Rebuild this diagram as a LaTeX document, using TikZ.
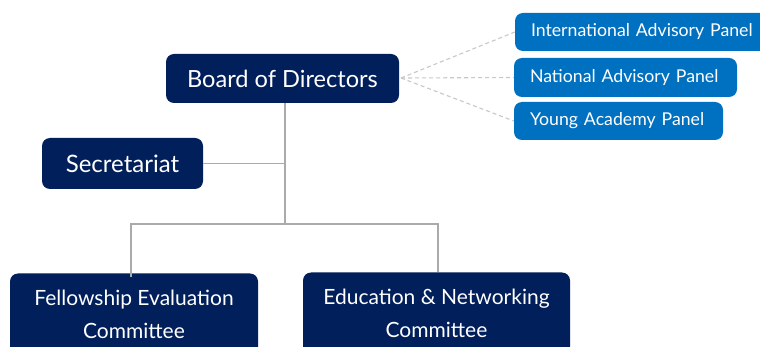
\documentclass[tikz,border=0pt]{standalone}
\usepackage{fontspec}
\setmainfont{Lato}
\definecolor{navy}{RGB}{0,31,91}
\definecolor{panelblue}{RGB}{0,112,192}
\definecolor{linegrey}{RGB}{170,170,170}
\definecolor{dashgrey}{RGB}{200,200,200}
\begin{document}
\begin{tikzpicture}[x=1pt,y=-1pt,
  darkbox/.style={rectangle, rounded corners=8pt, fill=navy, text=white, inner sep=0pt, align=center},
  panelbox/.style={rectangle, rounded corners=8pt, fill=panelblue, text=white, inner xsep=16pt, inner ysep=0pt, align=left},
  conn/.style={draw=linegrey, line width=1.4pt},
  dconn/.style={draw=dashgrey, line width=1.1pt, dash pattern=on 4pt off 3pt}]
\useasboundingbox (0,0) rectangle (760,347);
\clip (0,0) rectangle (760,347);
\fill[white] (0,0) rectangle (760,347);

\node[darkbox, minimum width=233pt, minimum height=49pt, font=\fontsize{23.6}{28}\selectfont] (board) at (282.5,78.5) {Board of Directors};
\node[darkbox, minimum width=161pt, minimum height=51pt, font=\fontsize{24}{28}\selectfont] (sec) at (122.5,163.5) {Secretariat};
\node[darkbox, minimum width=248pt, minimum height=82pt, font=\fontsize{21}{33}\selectfont] (fell) at (134,314.5) {Fellowship Evaluation\\Committee};
\node[darkbox, minimum width=267pt, minimum height=82pt, font=\fontsize{21}{33}\selectfont] (edu) at (436.5,313.5) {Education \& Networking\\Committee};

\node[panelbox, text width=240pt, minimum height=38pt, font=\fontsize{17.7}{20}\selectfont] (intl) at (651,32) {International Advisory Panel};
\node[panelbox, text width=191pt, minimum height=39pt, font=\fontsize{17.7}{20}\selectfont] (nat) at (625.5,77.5) {National Advisory Panel};
\node[panelbox, text width=177pt, minimum height=38pt, font=\fontsize{17.7}{20}\selectfont] (young) at (618.5,121) {Young Academy Panel};

\coordinate (j1) at (285,163.5);
\coordinate (j2) at (285,224);
\coordinate (ja) at (131,224);
\coordinate (jb) at (438,224);
\coordinate (bd) at (401,78);

\draw[conn] (board.south -| j1) -- (j2);
\draw[conn] (sec.east) -- (j1);
\draw[conn] ([yshift=-4pt]fell.north -| ja) -- (ja) -- (jb) -- (edu.north -| jb);

\draw[dconn] (bd) -- (intl.west);
\draw[dconn] (bd) -- (nat.west);
\draw[dconn] (bd) -- (young.west);
\end{tikzpicture}
\end{document}
